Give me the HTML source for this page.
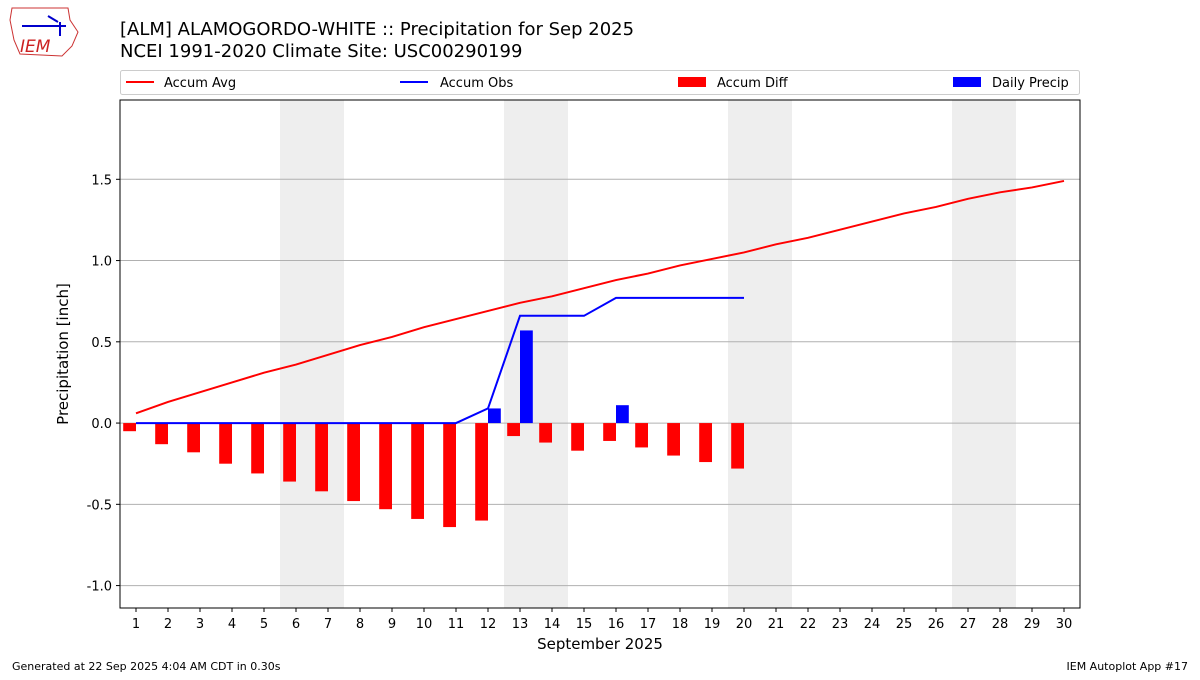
<!DOCTYPE html>
<html><head><meta charset="utf-8"><style>
body{margin:0;background:#fff;font-family:"Liberation Sans","DejaVu Sans",sans-serif;}
svg text{font-family:"DejaVu Sans","Liberation Sans",sans-serif;}
</style></head><body>
<svg id="c" width="1200" height="675" viewBox="0 0 1200 675" xmlns="http://www.w3.org/2000/svg">
<rect width="1200" height="675" fill="#fff"/>
<g>
<path d="M12 8 L68 8 L70 20 L78 32 L72 46 L62 56 L20 54 L14 40 L10 20 Z" fill="none" stroke="#c33" stroke-width="1"/>
<text x="20" y="52" font-size="17" fill="#c22" font-style="italic" font-family="Liberation Serif,serif">IEM</text>
<path d="M22 26 L66 26 M48 16 L58 22 M60 22 L60 36" stroke="#00c" stroke-width="2" fill="none"/>
</g>
<text x="120" y="35" font-size="18" fill="#000">[ALM] ALAMOGORDO-WHITE :: Precipitation for Sep 2025</text>
<text x="120" y="57" font-size="18" fill="#000">NCEI 1991-2020 Climate Site: USC00290199</text>
<g>
<rect x="120.5" y="70.5" width="959" height="24" fill="#fff" stroke="#ccc" rx="2"/>
<line x1="126" y1="82" x2="154" y2="82" stroke="red" stroke-width="2"/><text x="164" y="87" font-size="13">Accum Avg</text>
<line x1="400" y1="82" x2="428" y2="82" stroke="blue" stroke-width="2"/><text x="440" y="87" font-size="13">Accum Obs</text>
<rect x="678" y="77" width="28" height="10" fill="red"/><text x="717" y="87" font-size="13">Accum Diff</text>
<rect x="953" y="77" width="28" height="10" fill="blue"/><text x="992" y="87" font-size="13">Daily Precip</text>
</g>
<g id="plot"></g>
<text x="12" y="670" font-size="11">Generated at 22 Sep 2025 4:04 AM CDT in 0.30s</text>
<text x="1188" y="670" font-size="11" text-anchor="end">IEM Autoplot App #17</text>
</svg>
<script>
const days=[];for(let i=1;i<=30;i++)days.push(i);
const accumAvg=[0.06,0.13,0.19,0.25,0.31,0.36,0.42,0.48,0.53,0.59,0.64,0.69,0.74,0.78,0.83,0.88,0.92,0.97,1.01,1.05,1.10,1.14,1.19,1.24,1.29,1.33,1.38,1.42,1.45,1.49];
const accumObs=[0,0,0,0,0,0,0,0,0,0,0,0.09,0.66,0.66,0.66,0.77,0.77,0.77,0.77,0.77];
const accumDiff=[-0.05,-0.13,-0.18,-0.25,-0.31,-0.36,-0.42,-0.48,-0.53,-0.59,-0.64,-0.60,-0.08,-0.12,-0.17,-0.11,-0.15,-0.20,-0.24,-0.28];
const dailyDays=[12,13,16];
const dailyVals=[0.09,0.57,0.11];
const yTicks=[-1.0,-0.5,0.0,0.5,1.0,1.5];
const weekends=[[5.5,7.5],[12.5,14.5],[19.5,21.5],[26.5,28.5]];
const L=120,R=1080,T=100,B=608,xmin=0.5,xmax=30.5,ymin=-1.138,ymax=1.988;
const X=d=>L+(d-xmin)/(xmax-xmin)*(R-L);
const Y=v=>B-(v-ymin)/(ymax-ymin)*(B-T);
const NS="http://www.w3.org/2000/svg",g=document.getElementById('plot');
function mk(t,a){const e=document.createElementNS(NS,t);for(const k in a)e.setAttribute(k,a[k]);g.appendChild(e);return e;}
weekends.forEach(w=>{const e=mk('rect',{x:X(w[0]),y:T,width:X(w[1])-X(w[0]),height:B-T,fill:'#eee'});

});
yTicks.forEach(v=>{const e=mk('line',{x1:L,x2:R,y1:Y(v),y2:Y(v),stroke:'#b0b0b0','stroke-width':1});


mk('line',{x1:L-4,x2:L,y1:Y(v),y2:Y(v),stroke:'#000'});
const t=mk('text',{x:L-8,y:Y(v)+5,'font-size':13,'text-anchor':'end'});t.textContent=v.toFixed(1);

});
days.forEach(d=>{mk('line',{x1:X(d),x2:X(d),y1:B,y2:B+4,stroke:'#000'});
const t=mk('text',{x:X(d),y:B+20,'font-size':13,'text-anchor':'middle'});t.textContent=d;

});
const bw=X(1.4)-X(1);
accumDiff.forEach((v,i)=>{const d=i+1;const e=mk('rect',{x:X(d)-bw,y:Math.min(Y(v),Y(0)),width:bw,height:Math.abs(Y(v)-Y(0)),fill:'red'});

});
dailyDays.forEach((d,i)=>{const v=dailyVals[i];const e=mk('rect',{x:X(d),y:Y(v),width:bw,height:Y(0)-Y(v),fill:'blue'});

});
let e1=mk('polyline',{points:accumAvg.map((v,i)=>X(i+1)+','+Y(v)).join(' '),fill:'none',stroke:'red','stroke-width':2});


let e2=mk('polyline',{points:accumObs.map((v,i)=>X(i+1)+','+Y(v)).join(' '),fill:'none',stroke:'blue','stroke-width':2});


let fr=mk('rect',{x:L,y:T,width:R-L,height:B-T,fill:'none',stroke:'#000','stroke-width':1});


let yl=mk('text',{x:68,y:(T+B)/2,'font-size':15,'text-anchor':'middle',transform:`rotate(-90 68 ${(T+B)/2})`});yl.textContent='Precipitation [inch]';


let xl=mk('text',{x:(L+R)/2,y:649,'font-size':15,'text-anchor':'middle'});xl.textContent='September 2025';


</script>
</body></html>
